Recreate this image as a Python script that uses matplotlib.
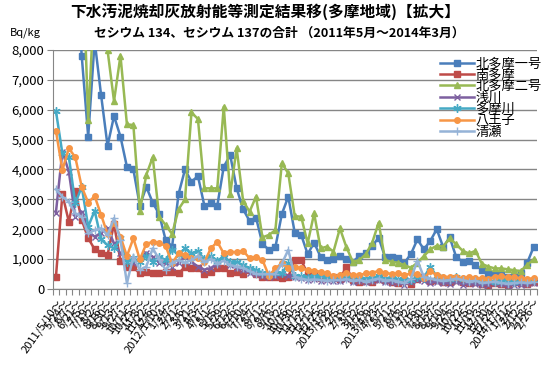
import matplotlib
matplotlib.use('Agg')
import matplotlib.pyplot as plt
import numpy as np
from matplotlib.ticker import MultipleLocator, FuncFormatter

plt.rcParams['font.family'] = ['Noto Sans CJK JP', 'DejaVu Sans']

# 測定期間 (x軸ラベル)
dates = ['2011/5/10～', '5/24～', '6/7～', '6/21～', '7/5～', '7/19～', '8/2～', '8/16～',
         '8/30～', '9/13～', '9/27～', '10/11～', '10/25～', '11/8～', '11/22～', '12/6～',
         '2012/1/10～', '1/24～', '2/7～', '2/21～', '3/6～', '3/21～', '4/3～', '4/17～',
         '5/1～', '5/15～', '5/29～', '6/12～', '6/26～', '7/10～', '7/24～', '8/7～',
         '8/21～', '9/4～', '9/18～', '10/2～', '10/16～', '10/30～', '11/13～', '11/27～',
         '12/11～', '12/25～', '2013/1/8～', '1/22～', '2/5～', '2/19～', '3/5～', '3/12～',
         '3/26～', '2013/4/9～', '4/23～', '5/7～', '5/21～', '6/4～', '6/18～', '7/2～',
         '7/16～', '7/30～', '8/13～', '8/27～', '9/10～', '9/24～', '10/8～', '10/22～',
         '11/5～', '11/19～', '12/3～', '12/10～', '12/24～', '2014/1/7～', '1/21～', '2/4～',
         '2/12～', '2/18～', '2/26～']

# Bq/kg (8,000を超える値は拡大図の外)
kita1 = [25000, 20000, 16000, 11000, 7800, 5100, 8300, 6490, 4790, 5790,
         5100, 4090, 4000, 2790, 3420, 2890, 2500, 1640, 1420, 3180,
         4000, 3590, 3780, 2790, 2870, 2790, 4090, 4480, 3370, 2670,
         2280, 2390, 1510, 1310, 1400, 2510, 3090, 1880, 1810, 1170,
         1550, 1080, 970, 1000, 1100, 990, 910, 1100, 1190, 1440,
         1720, 1060, 1080, 1030, 880, 1170, 1660, 1330, 1610, 2000,
         1400, 1730, 1080, 910, 940, 800, 640, 490, 490, 470,
         390, 390, 520, 870, 1400]
minami = [390, 3180, 2250, 3290, 2310, 1700, 1330, 1220, 1140, 2180,
          950, 730, 730, 520, 560, 520, 520, 580, 580, 520,
          740, 700, 690, 500, 580, 710, 710, 520, 580, 500,
          640, 500, 390, 390, 390, 360, 410, 970, 970, 500,
          470, 360, 360, 400, 340, 750, 300, 250, 280, 230,
          350, 300, 220, 200, 260, 180, 350, 400, 280, 300,
          250, 220, 300, 250, 200, 220, 160, 150, 200, 180,
          150, 250, 200, 180, 220]
kita2 = [20000, 18000, 16000, 14000, 12000, 5650, 10000, 9500, 7990, 6290,
         7810, 5510, 5490, 2620, 3820, 4410, 2420, 2140, 1840, 2670,
         3000, 5910, 5690, 3370, 3370, 3370, 6100, 3180, 4710, 2950,
         2590, 3090, 1730, 1810, 1970, 4210, 3870, 2440, 2420, 1530,
         2530, 1360, 1420, 1250, 2030, 1400, 910, 970, 1160, 1550,
         2220, 970, 910, 880, 800, 710, 880, 1100, 1330, 1450,
         1420, 1700, 1500, 1280, 1190, 1280, 840, 750, 690, 690,
         660, 630, 600, 800, 990]
asakawa = [2560, 4600, 3930, 2420, 2590, 1920, 1750, 1880, 2030, 1530,
           1190, 1030, 860, 1030, 1220, 1080, 880, 860, 750, 860,
           1100, 910, 750, 650, 700, 850, 1140, 800, 700, 650,
           550, 500, 450, 400, 420, 500, 450, 400, 380, 300,
           330, 280, 300, 280, 260, 350, 250, 280, 220, 260,
           300, 250, 200, 240, 150, 250, 300, 280, 200, 250,
           200, 180, 250, 150, 200, 160, 120, 150, 200, 160,
           100, 150, 130, 170, 200]
tamagawa = [5960, 4540, 4430, 2870, 3420, 2090, 2620, 1660, 1470, 1360,
            1700, 910, 1030, 910, 1100, 910, 1080, 970, 1310, 1140,
            1360, 1190, 1260, 1000, 1100, 950, 1080, 900, 910, 800,
            700, 640, 550, 470, 520, 520, 860, 450, 420, 400,
            450, 420, 400, 380, 420, 450, 380, 400, 350, 380,
            420, 350, 380, 320, 350, 300, 400, 380, 750, 420,
            380, 350, 400, 320, 300, 330, 280, 300, 250, 300,
            280, 250, 300, 280, 300]
hachioji = [5300, 3980, 4710, 4410, 3420, 2890, 3110, 2480, 1840, 2220,
            1750, 1100, 1700, 990, 1510, 1580, 1550, 1440, 860, 1190,
            1140, 1030, 1050, 900, 1360, 1580, 1190, 1250, 1230, 1280,
            1030, 1080, 970, 440, 690, 860, 710, 750, 690, 640,
            610, 580, 520, 420, 470, 520, 470, 470, 520, 550,
            600, 550, 500, 520, 470, 520, 500, 360, 600, 470,
            410, 400, 400, 360, 410, 360, 360, 340, 410, 420,
            390, 390, 360, 340, 360]
kiyose = [3340, 3090, 2920, 2530, 2420, 1860, 1970, 2030, 1800, 2370,
          1640, 200, 1080, 640, 750, 1360, 990, 640, 880, 970,
          880, 970, 1100, 900, 1000, 850, 950, 800, 750, 700,
          600, 500, 500, 500, 500, 850, 1310, 410, 350, 300,
          320, 300, 280, 300, 300, 330, 280, 300, 250, 300,
          350, 280, 300, 250, 200, 350, 950, 400, 350, 300,
          280, 300, 350, 300, 250, 280, 200, 220, 250, 200,
          180, 200, 220, 200, 230]

# Plot
fig = plt.figure(figsize=(5.5, 3.67), dpi=100)
ax = fig.add_axes([0.0958, 0.2125, 0.8802, 0.6513])

x = np.arange(len(dates))
ax.plot(x, kita1, color='#4A7EBB', lw=1.8, marker='s', ms=4, label='北多摩一号')
ax.plot(x, minami, color='#BE4B48', lw=1.8, marker='s', ms=4, label='南多摩')
ax.plot(x, kita2, color='#98B954', lw=1.8, marker='^', ms=4.5, label='北多摩二号')
ax.plot(x, asakawa, color='#7D60A0', lw=1.8, marker='x', ms=4, mew=1, label='浅川')
ax.plot(x, tamagawa, color='#46AAC5', lw=1.8, marker=(6, 2, 0), ms=6, mew=1, label='多摩川')
ax.plot(x, hachioji, color='#F79646', lw=1.8, marker='o', ms=4, label='八王子')
ax.plot(x, kiyose, color='#95B3D7', lw=1.8, marker='+', ms=6, mew=1, label='清瀬')

ax.set_ylim(0, 8000)
ax.set_xlim(-0.5, len(dates) - 0.5)
ax.yaxis.set_major_locator(MultipleLocator(1000))
ax.yaxis.set_major_formatter(FuncFormatter(lambda v, p: f'{int(v):,}'))
ax.grid(axis='y', color='#868686', lw=1)
ax.set_axisbelow(True)
for s in ['top', 'right']:
    ax.spines[s].set_visible(False)
for s in ['left', 'bottom']:
    ax.spines[s].set_color('#868686')
ax.tick_params(axis='y', length=4, color='#868686', labelsize=9.5, pad=2)

# 区切りの目盛りとラベル
ax.set_xticks(np.arange(-0.5, len(dates), 1))
ax.tick_params(axis='x', which='major', length=4, color='#868686', labelbottom=False)
ax.set_xticks(x, minor=True)
ax.set_xticklabels(dates, minor=True, rotation=55, ha='right', rotation_mode='anchor', fontsize=8)
ax.tick_params(axis='x', which='minor', length=0, pad=6)

ax.legend(loc='upper left', bbox_to_anchor=(0.8, 0.97), frameon=False, fontsize=9.5,
          handlelength=2.6, handletextpad=0.1, labelspacing=-0.12, borderpad=0, borderaxespad=0)

fig.text(0.482, 0.968, '下水汚泥焼却灰放射能等測定結果移(多摩地域)【拡大】', ha='center', va='center',
         fontsize=11.3, fontweight='bold')
fig.text(0.508, 0.91, 'セシウム 134、セシウム 137の合計 （2011年5月～2014年3月）', ha='center', va='center',
         fontsize=9.2, fontweight='bold')
fig.text(0.047, 0.912, 'Bq/kg', ha='center', va='center', fontsize=8)

fig.savefig('out.png', dpi=100)
